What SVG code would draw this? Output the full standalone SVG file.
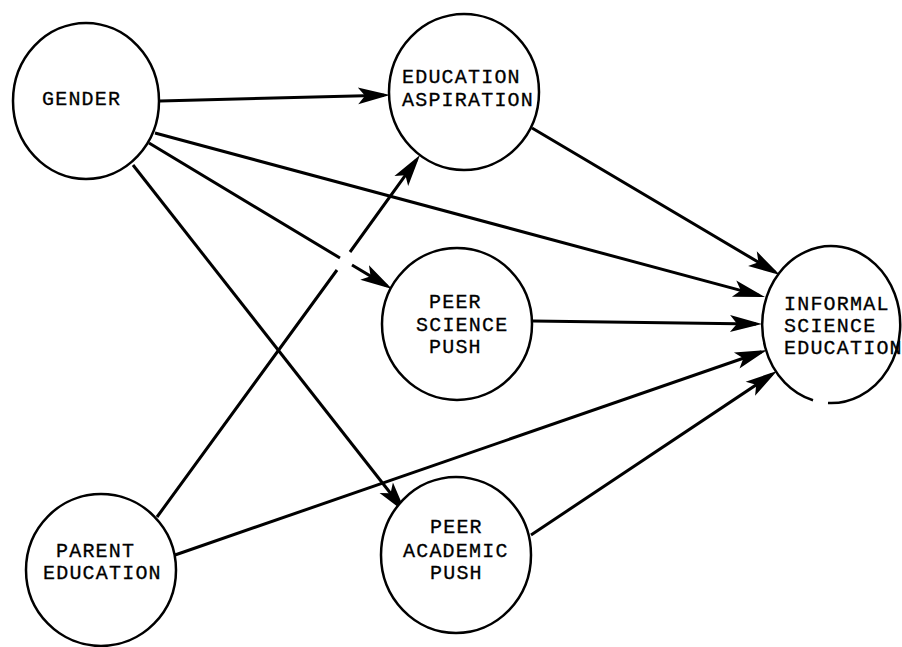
<svg xmlns="http://www.w3.org/2000/svg" width="902" height="647" viewBox="0 0 902 647">
  <style>
    .node { fill: #ffffff; stroke: #000000; stroke-width: 2.5; }
    .label { font-family: "Liberation Mono", "Courier New", monospace; font-size: 20px; letter-spacing: 1.2px; fill: #000000; stroke: #000000; stroke-width: 0.3; }
    .edge { fill: none; stroke: #000000; stroke-width: 3; stroke-linecap: butt; marker-end: url(#arrow); }
  </style>
  <defs>
    <marker id="arrow" viewBox="-34 -10 36 20" refX="-6" refY="0" markerUnits="userSpaceOnUse" markerWidth="36" markerHeight="20" orient="auto">
      <path d="M0,0 L-32,-8.5 L-25,0 L-32,8.5 Z" fill="#000000"/>
    </marker>
  </defs>

  <!-- connectors -->
  <g id="connectors">
    <path class="edge" d="M160,101 L384,95.2"/>
    <path class="edge" d="M155,133 L759.2,295.4"/>
    <path class="edge" d="M149,143 L340,258 M352,265 L386.9,285.9"/>
    <path class="edge" d="M133,165 L402.3,508.3"/>
    <path class="edge" d="M532,128 L774.8,271.9"/>
    <path class="edge" d="M533,321 L756,323.9"/>
    <path class="edge" d="M175,555 L761.3,352"/>
    <path class="edge" d="M531,535 L772,374.3"/>
    <path class="edge" d="M157,517 L337,270 M350,252 L416.5,159.9"/>
  </g>

  <!-- nodes -->
  <g id="gender">
    <ellipse class="node" cx="86" cy="101" rx="73" ry="78"/>
    <text class="label" x="42" y="105">GENDER</text>
  </g>

  <g id="education-aspiration">
    <ellipse class="node" cx="464" cy="92" rx="75" ry="78"/>
    <text class="label" x="402" y="83">EDUCATION</text>
    <text class="label" x="402" y="106">ASPIRATION</text>
  </g>

  <g id="peer-science-push">
    <ellipse class="node" cx="457" cy="324" rx="75" ry="76"/>
    <text class="label" x="429" y="308">PEER</text>
    <text class="label" x="416" y="331">SCIENCE</text>
    <text class="label" x="429" y="353">PUSH</text>
  </g>

  <g id="informal-science-education">
    <path class="node" d="M828,403 A69,78.5 0 1 0 813,400.3"/>
    <text class="label" x="784" y="310">INFORMAL</text>
    <text class="label" x="784" y="332">SCIENCE</text>
    <text class="label" x="784" y="354">EDUCATION</text>
  </g>

  <g id="parent-education">
    <ellipse class="node" cx="101" cy="570" rx="75" ry="76"/>
    <text class="label" x="56" y="557">PARENT</text>
    <text class="label" x="43" y="579">EDUCATION</text>
  </g>

  <g id="peer-academic-push">
    <ellipse class="node" cx="456" cy="555" rx="75" ry="78"/>
    <text class="label" x="430" y="533">PEER</text>
    <text class="label" x="403" y="557">ACADEMIC</text>
    <text class="label" x="430" y="579">PUSH</text>
  </g>
</svg>
